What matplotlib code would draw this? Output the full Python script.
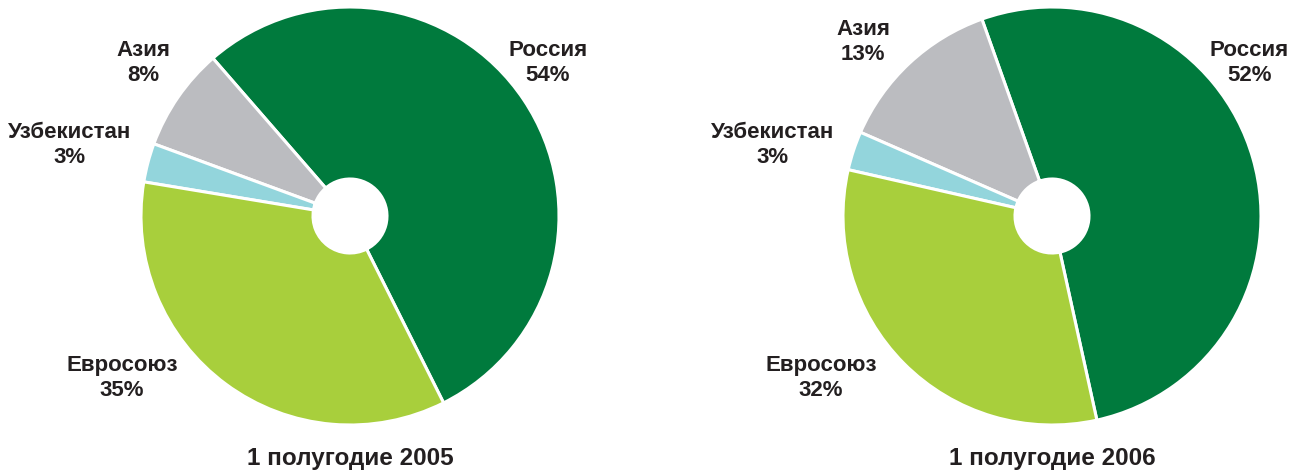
import matplotlib
matplotlib.use("Agg")
import matplotlib.pyplot as plt

plt.rcParams['font.family'] = ['Liberation Sans', 'DejaVu Sans']

regions = ["Россия", "Азия", "Узбекистан", "Евросоюз"]
share_2005 = [54, 8, 3, 35]
share_2006 = [52, 13, 3, 32]
titles = ["1 полугодие 2005", "1 полугодие 2006"]

colors = ["#007a3d", "#bbbcc0", "#93d5dc", "#a8cf3c"]
txt = "#231f20"

W, H = 1306, 471
R = 209.0  # pie radius in px

fig = plt.figure(figsize=(W / 100, H / 100), dpi=100)

# per-chart layout: centre x inside half, start angle, label positions (in radii)
layouts = [
    dict(cx=350, start=-63.4,
         pos=[(0.947, 0.732), (-0.990, 0.732), (-1.340, 0.340), (-1.091, -0.775)]),
    dict(cx=1052 - 653, start=-77.6,
         pos=[(0.943, 0.732), (-0.904, 0.833), (-1.335, 0.340), (-1.105, -0.775)]),
]
cy = 216

for i, (vals, title, lay) in enumerate(zip([share_2005, share_2006], titles, layouts)):
    ax = fig.add_axes([i * 0.5, 0, 0.5, 1])
    ax.pie(vals, colors=colors, startangle=lay["start"], counterclock=True,
           radius=1.0, wedgeprops=dict(width=1 - 37 / R, edgecolor="white", linewidth=2.2))
    ax.set_xlim(-lay["cx"] / R, (653 - lay["cx"]) / R)
    ax.set_ylim(-(H - cy) / R, cy / R)
    ax.set_aspect("auto")
    ax.axis("off")
    for name, v, (x, y) in zip(regions, vals, lay["pos"]):
        ax.text(x, y, f"{name}\n{v}%", ha="center", va="center", fontsize=16,
                fontweight="bold", color=txt, linespacing=1.2)
    ax.text(0, -1.158, title, ha="center", va="center", fontsize=17.5,
            fontweight="bold", color=txt)

fig.savefig("out.png", dpi=100)
